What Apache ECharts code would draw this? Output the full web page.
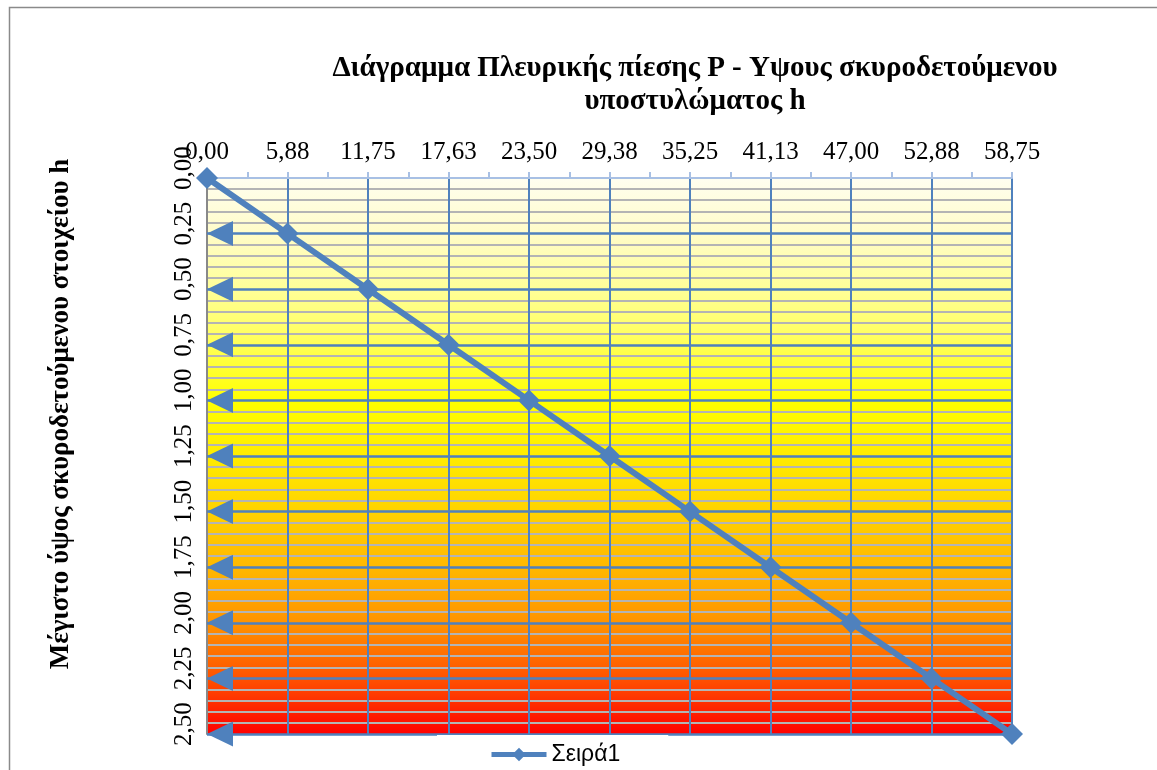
<!DOCTYPE html>
<html>
<head>
<meta charset="utf-8">
<script src="https://cdn.jsdelivr.net/npm/echarts@6/dist/echarts.min.js"></script>
<style>
  html, body { margin: 0; padding: 0; background: #fff; }
  #chart { width: 1157px; height: 770px; }
</style>
</head>
<body>
<div id="chart"></div>
<script>
// πλευρική πίεση P (άξονας x, πάνω)
var pressure = [0, 5.875, 11.75, 17.625, 23.5, 29.375, 35.25, 41.125, 47, 52.875, 58.75];
// ύψος h (άξονας y, ανεστραμμένος)
var height = [0, 0.25, 0.5, 0.75, 1, 1.25, 1.5, 1.75, 2, 2.25, 2.5];

var xTickLabels = ['0,00', '5,88', '11,75', '17,63', '23,50', '29,38', '35,25', '41,13', '47,00', '52,88', '58,75'];
var yTickLabels = ['0,00', '0,25', '0,50', '0,75', '1,00', '1,25', '1,50', '1,75', '2,00', '2,25', '2,50'];
// οριζόντιες κύριες γραμμές με βέλος
var arrowLevels = [0.25, 0.5, 0.75, 1, 1.25, 1.5, 1.75, 2, 2.25, 2.5];

var blue = '#4f81bd';
var serif = "'Liberation Serif', 'DejaVu Serif', serif";

var myChart = echarts.init(document.getElementById('chart'));

var points = [];
for (var i = 0; i < pressure.length; i++) {
  points.push([pressure[i], height[i]]);
}

var option = {
  animation: false,
  graphic: [{
    type: 'rect',
    shape: { x: 9.5, y: 7.5, width: 1200, height: 800 },
    style: { fill: 'none', stroke: '#8a8a8a', lineWidth: 1.5 },
    silent: true,
    z: -1
  }],
  title: {
    text: 'Διάγραμμα Πλευρικής πίεσης P - Υψους σκυροδετούμενου\nυποστυλώματος h',
    left: 690,
    top: 47,
    textAlign: 'center',
    textStyle: {
      fontFamily: serif,
      fontWeight: 'bold',
      fontSize: 29,
      lineHeight: 33,
      color: '#000'
    }
  },
  legend: {
    data: ['Σειρά1'],
    left: 437,
    top: 735,
    padding: [8, 48, 10, 52],
    backgroundColor: '#fff',
    itemWidth: 55,
    itemHeight: 17,
    itemGap: 5,
    lineStyle: { width: 5 },
    textStyle: {
      fontFamily: "'Liberation Sans', 'DejaVu Sans', sans-serif",
      fontSize: 23,
      color: '#000'
    }
  },
  grid: {
    left: 207,
    right: 145,
    top: 178,
    bottom: 36,
    show: true,
    borderWidth: 0,
    backgroundColor: {
      type: 'linear',
      x: 0, y: 0, x2: 0, y2: 1,
      colorStops: [
        { offset: 0, color: '#fffef0' },
        { offset: 0.1, color: '#fffcc8' },
        { offset: 0.2, color: '#ffff98' },
        { offset: 0.3, color: '#ffff55' },
        { offset: 0.4, color: '#ffff00' },
        { offset: 0.5, color: '#ffec00' },
        { offset: 0.6, color: '#ffd200' },
        { offset: 0.7, color: '#ffb800' },
        { offset: 0.8, color: '#ff9300' },
        { offset: 0.9, color: '#ff5200' },
        { offset: 1, color: '#ff0000' }
      ]
    }
  },
  xAxis: {
    type: 'value',
    position: 'top',
    min: 0,
    max: 58.75,
    interval: 5.875,
    axisLine: { show: true, lineStyle: { color: '#a8c0e4', width: 2 } },
    axisTick: { show: true, length: 6, lineStyle: { color: '#a8c0e4', width: 2 } },
    minorTick: { show: true, splitNumber: 2, length: 6, lineStyle: { color: '#a8c0e4', width: 2 } },
    axisLabel: {
      margin: 13,
      fontFamily: serif,
      fontSize: 25,
      color: '#000',
      formatter: function (v) {
        return xTickLabels[Math.round(v / 5.875)];
      }
    },
    splitLine: { show: true, lineStyle: { color: blue, width: 2 } }
  },
  yAxis: {
    type: 'value',
    inverse: true,
    min: 0,
    max: 2.5,
    interval: 0.25,
    name: 'Μέγιστο ύψος σκυροδετούμενου στοιχείου h',
    nameLocation: 'middle',
    nameGap: 132,
    nameTextStyle: {
      fontFamily: serif,
      fontWeight: 'bold',
      fontSize: 27,
      color: '#000',
      padding: [0, 0, 0, 84]
    },
    axisLine: { show: true, lineStyle: { color: '#898989', width: 2 } },
    axisTick: { show: false },
    axisLabel: {
      rotate: 90,
      margin: 10,
      fontFamily: serif,
      fontSize: 25,
      color: '#000',
      padding: [0, 0, 0, 20],
      formatter: function (v) {
        return yTickLabels[Math.round(v / 0.25)];
      }
    },
    splitLine: { show: false },
    minorTick: { show: false, splitNumber: 5 },
    minorSplitLine: { show: true, lineStyle: { color: '#b4b4b4', width: 2 } }
  },
  series: [{
    name: 'Σειρά1',
    type: 'line',
    data: points,
    clip: false,
    color: blue,
    symbol: 'diamond',
    symbolSize: 22,
    lineStyle: { width: 6, color: blue },
    itemStyle: { color: blue },
    z: 5,
    markLine: {
      silent: true,
      symbol: ['triangle', 'none'],
      symbolSize: [25, 26],
      symbolOffset: [[0, 13], [0, 0]],
      label: { show: false },
      lineStyle: { color: blue, width: 2.5, type: 'solid' },
      data: arrowLevels.map(function (v) { return { yAxis: v }; }),
      z: 3
    }
  }]
};

myChart.setOption(option);
</script>
</body>
</html>
